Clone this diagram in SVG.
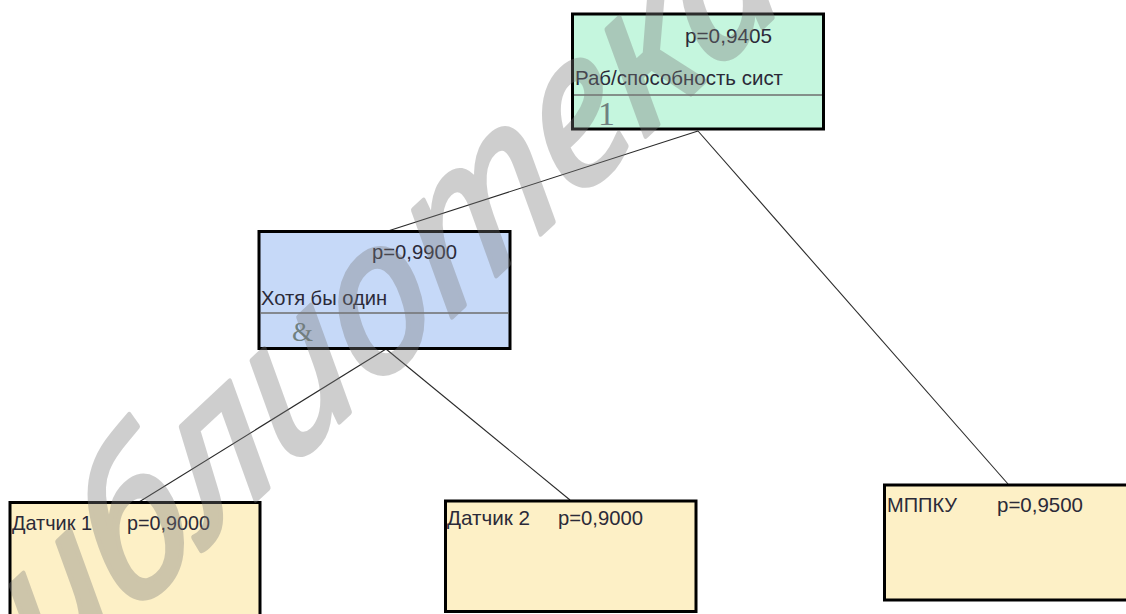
<svg xmlns="http://www.w3.org/2000/svg" width="1126" height="614" viewBox="0 0 1126 614">
<style>
.box{stroke:#000;stroke-width:3}
.div{stroke:#6e6e6e;stroke-width:1.5}
.t{font-family:"Liberation Sans",Arial,sans-serif;font-size:21px;fill:#2b2a38}
.sym{font-family:"Liberation Serif","Times New Roman",serif;fill:#6f8080}
.conn line{stroke:#2a2a2a;stroke-width:1.1}
.wm{font-family:"Noto Sans","Open Sans",sans-serif;font-style:italic;font-size:195px;fill:#7a7a7a;stroke:#7a7a7a;stroke-width:5;stroke-linejoin:round}
</style>
<rect width="1126" height="614" fill="#fff"/>
<g id="connectors" class="conn">
<line x1="698" y1="131" x2="388" y2="231"/>
<line x1="698" y1="131" x2="1008" y2="484"/>
<line x1="386" y1="349" x2="139" y2="502"/>
<line x1="386" y1="349" x2="570" y2="500"/>
</g>
<g id="node-system">
<rect class="box" x="572.5" y="14" width="251" height="115" fill="#c5f6de"/>
<line class="div" x1="574" y1="95" x2="822" y2="95"/>
<text class="t" x="685" y="43" textLength="87" lengthAdjust="spacingAndGlyphs">p=0,9405</text>
<text class="t" x="575" y="85" textLength="208" lengthAdjust="spacingAndGlyphs">Раб/способность сист</text>
<text class="sym" x="598" y="125" font-size="34">1</text>
</g>
<g id="node-atleast">
<rect class="box" x="259" y="231.5" width="251" height="117" fill="#c6d9f8"/>
<line class="div" x1="260" y1="313" x2="509" y2="313"/>
<text class="t" x="372" y="259" textLength="85" lengthAdjust="spacingAndGlyphs">p=0,9900</text>
<text class="t" x="261" y="305" textLength="126" lengthAdjust="spacingAndGlyphs">Хотя бы один</text>
<text class="sym" x="292" y="341" font-size="27">&amp;</text>
</g>
<g id="node-sensor1">
<rect class="box" x="10" y="502.5" width="250" height="125" fill="#fdf0c6"/>
<text class="t" x="12" y="530" textLength="80" lengthAdjust="spacingAndGlyphs">Датчик 1</text>
<text class="t" x="127" y="530" textLength="83" lengthAdjust="spacingAndGlyphs">p=0,9000</text>
</g>
<g id="node-sensor2">
<rect class="box" x="445.5" y="501" width="250.5" height="110.5" fill="#fdf0c6"/>
<text class="t" x="447" y="525" textLength="83" lengthAdjust="spacingAndGlyphs">Датчик 2</text>
<text class="t" x="558" y="525" textLength="85" lengthAdjust="spacingAndGlyphs">p=0,9000</text>
</g>
<g id="node-mppku">
<rect class="box" x="884.5" y="485" width="250" height="115" fill="#fdf0c6"/>
<text class="t" x="887" y="512" textLength="70" lengthAdjust="spacingAndGlyphs">МППКУ</text>
<text class="t" x="997" y="512" textLength="86" lengthAdjust="spacingAndGlyphs">p=0,9500</text>
</g>
<g id="watermark" opacity="0.36">
<text class="wm" transform="translate(-32,768) rotate(-43) skewX(-12)">библиотека</text>
</g>
</svg>
